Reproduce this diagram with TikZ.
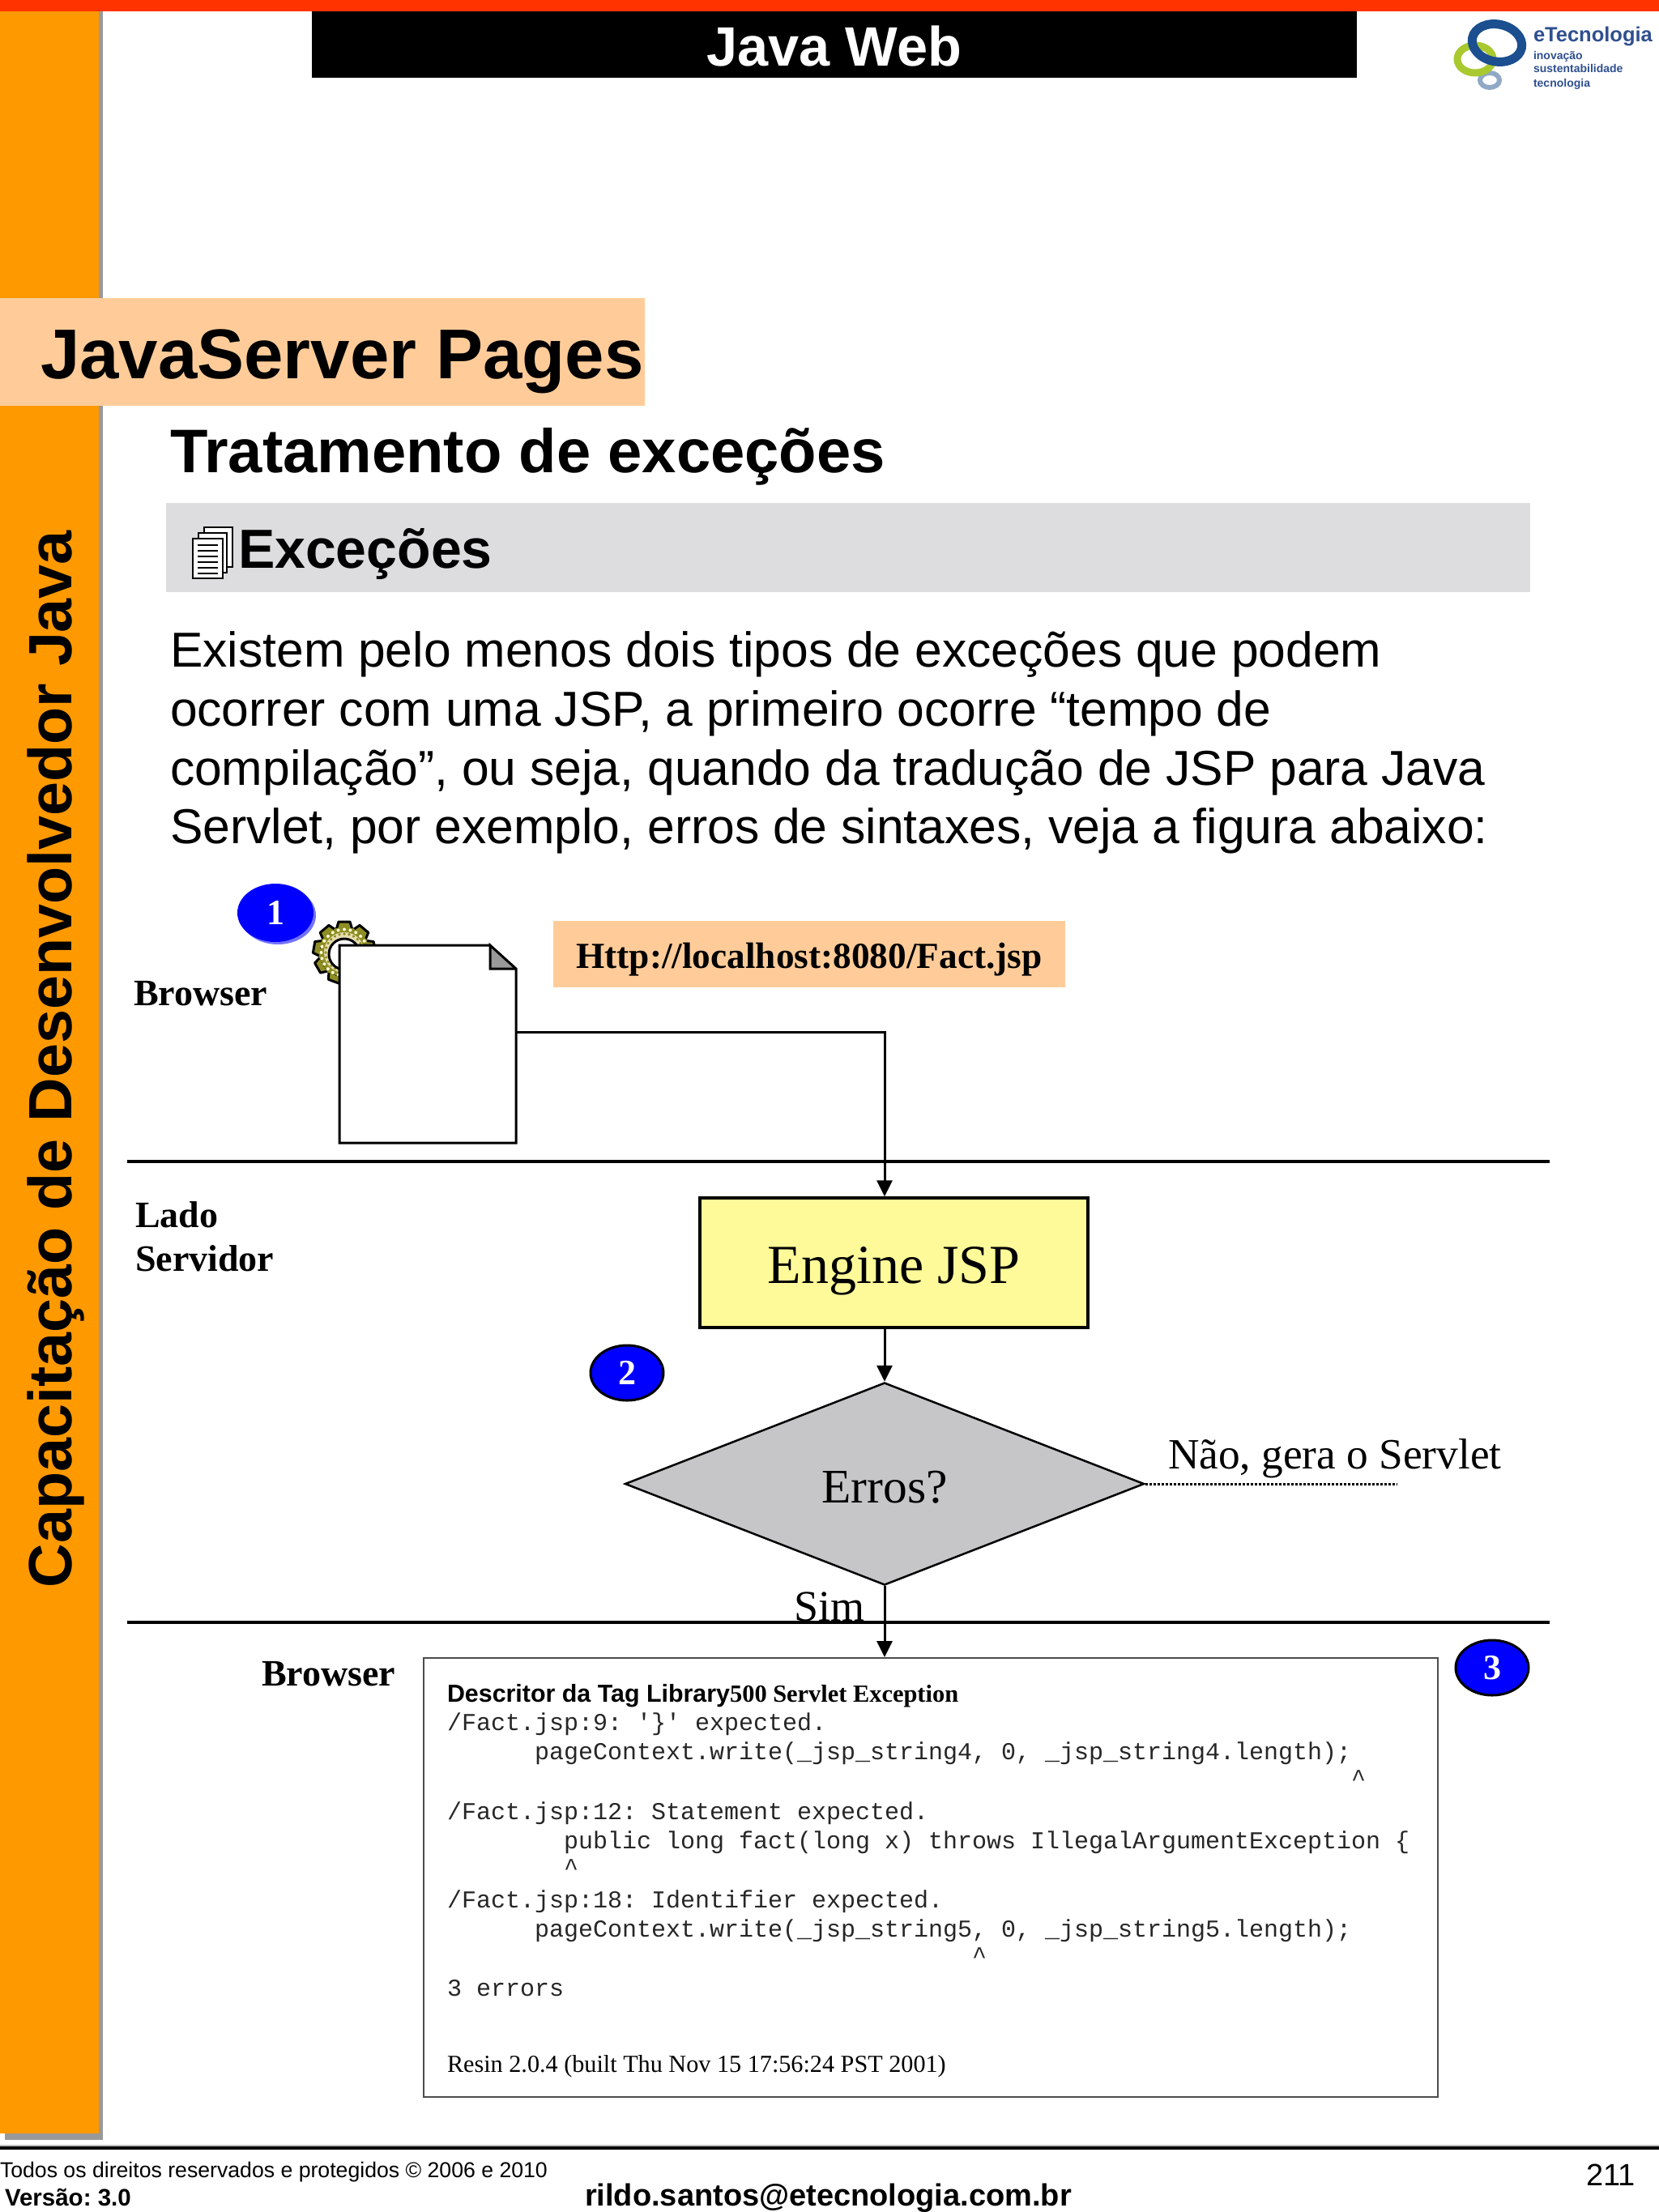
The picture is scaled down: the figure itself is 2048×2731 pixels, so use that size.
\documentclass[tikz,border=0pt]{standalone}
\usepackage{fontspec}
\usetikzlibrary{shapes.geometric,arrows.meta}
\setmainfont{Liberation Sans}
\newfontfamily\serifface{Liberation Serif}
\newfontfamily\monoface{Liberation Mono}
\newcommand{\fs}[1]{\fontsize{#1}{#1}\selectfont}
\AtBeginDocument{\frenchspacing}
\definecolor{topbar}{HTML}{FF3300}
\definecolor{sidebar}{HTML}{FF9900}
\definecolor{peach}{HTML}{FFCC99}
\definecolor{bandgray}{HTML}{DDDCDE}
\definecolor{shadowgray}{HTML}{999999}
\definecolor{decgray}{HTML}{C6C6C8}
\definecolor{logoblue}{HTML}{1B4F8F}
\definecolor{logogreen}{HTML}{A9C92F}
\definecolor{logopale}{HTML}{8FA9C6}
\definecolor{logotext}{HTML}{2F4F8F}
\definecolor{gearolive}{HTML}{8E8E24}
\definecolor{geartan}{HTML}{E6DDB0}
\definecolor{gearpale}{HTML}{FFFFD8}
\tikzset{
  txt/.style={inner sep=0pt,outer sep=0pt,anchor=base west,text depth=0pt},
  mono/.style={txt,font=\monoface\fs{30},text=black!85},
  badge/.style={ellipse,fill=blue,inner sep=0pt,minimum width=94pt,minimum height=72pt,text=white,font=\serifface\bfseries\fs{44}},
  ringbadge/.style={badge,draw=black,line width=3pt,minimum width=90pt,minimum height=68pt},
  wire/.style={line width=3pt,draw=black},
  arrowwire/.style={wire,-{Triangle[length=20pt,width=19pt]},shorten >=0pt},
  hrule/.style={line width=3.2pt,draw=black},
  bold serif/.style={txt,font=\serifface\bfseries\fs{46}},
  page/.style={draw=black,line width=1.6pt,fill=white}
}
\begin{document}
\begin{tikzpicture}[x=1pt,y=-1pt]
\useasboundingbox (0,0) rectangle (2048,2731);
\fill[white] (0,0) rectangle (2048,2731);
% frame
\fill[shadowgray] (6,14) rectangle (127,2642);
\fill[sidebar] (0,14) rectangle (122,2634);
\fill[topbar] (0,0) rectangle (2048,14);
\fill[black] (385,14) rectangle (1675,96);
\node[txt,anchor=base,text=white,font=\bfseries\fs{68.5}] (title) at (1030,81) {Java Web};
% logo
\draw[logopale,line width=6pt] (1839,99) ellipse [x radius=12,y radius=9];
\draw[logogreen,line width=9pt] (1821,73) ellipse [x radius=22,y radius=17];
\draw[logoblue,line width=11pt,rotate around={-12:(1848,53)}] (1848,53) ellipse [x radius=31,y radius=23];
\node[txt,text=logotext,font=\bfseries\fs{25.5}] (logo1) at (1893,51) {eTecnologia};
\node[txt,text=logotext,font=\bfseries\fs{14}] (logo2) at (1893,73) {inovação};
\node[txt,text=logotext,font=\bfseries\fs{14}] (logo3) at (1893,89) {sustentabilidade};
\node[txt,text=logotext,font=\bfseries\fs{14}] (logo4) at (1893,107) {tecnologia};
% sidebar title
\fill[peach] (0,368) rectangle (796,501);
\node[txt,font=\bfseries\fs{87}] (chapter) at (50,467) {JavaServer Pages};
\node[txt,rotate=90,font=\bfseries\fs{75.5}] (side) at (88,1960) {Capacitação de Desenvolvedor Java};
\node[txt,font=\bfseries\fs{76}] (section) at (210,583) {Tratamento de exceções};
\fill[bandgray] (205,621) rectangle (1889,731);
% stacked page icon
\draw[page] (252,651) rectangle (287,700);
\draw[page] (245,658) rectangle (280,707);
\draw[page] (238,665) rectangle (275,714);
\foreach \yy in {673,680,687,694,701,708}
  \draw[black,line width=1.2pt] (244,\yy) -- (269,\yy);
\node[txt,font=\bfseries\fs{68}] (sub) at (294,701) {Exceções};
% body
\node[txt,font=\fs{60.6}] (b1) at (210,823) {Existem pelo menos dois tipos de exceções que podem};
\node[txt,font=\fs{60.6}] (b2) at (210,896) {ocorrer com uma JSP, a primeiro ocorre “tempo de};
\node[txt,font=\fs{60.6}] (b3) at (210,969) {compilação”, ou seja, quando da tradução de JSP para Java};
\node[txt,font=\fs{60.6}] (b4) at (210,1041) {Servlet, por exemplo, erros de sintaxes, veja a figura abaixo:};
% rules
\coordinate (r1a) at (157,1434); \coordinate (r1b) at (1913,1434);
\coordinate (r2a) at (157,2003); \coordinate (r2b) at (1913,2003);
\draw[hrule] (r1a) -- (r1b);
\draw[hrule] (r2a) -- (r2b);
% gear
\begin{scope}[shift={(425,1176)}]
  \foreach \a in {0,40,...,320}
    \fill[gearolive,draw=black,line width=3pt,line join=round,rotate=\a] (-10,-28) -- (-7,-38) -- (7,-38) -- (10,-28) -- cycle;
  \fill[gearolive,draw=black,line width=0pt] (0,0) circle (30);
  \foreach \a in {0,40,...,320}
    \fill[gearolive,rotate=\a] (-11,-30) rectangle (11,-24);
  \foreach \a in {0,15,...,345}
    \fill[gearpale,rotate=\a] (0,-28.5) circle (2);
  \fill[geartan] (0,0) circle (25);
  \foreach \a in {0,15,...,345}
    \fill[gearolive,rotate=\a] (0,-23) circle (1.8);
  \fill[white,draw=black,line width=3pt] (0,2) circle (19);
\end{scope}
% document
\node[rectangle,fill=white,inner sep=0pt,minimum width=218pt,minimum height=244pt] (doc) at (528,1289) {};
\fill[shadowgray] (605,1167) -- (637,1196) -- (605,1196) -- cycle;
\draw[wire,line join=miter] (605,1167) -- (419,1167) -- (419,1411) -- (637,1411) -- (637,1196) -- (605,1167) -- (605,1196) -- (637,1196);
\coordinate (docout) at (637,1274);
% url
\node[fill=peach,inner sep=0pt,minimum width=632pt,minimum height=82pt,font=\serifface\bfseries\fs{45.3}] (url) at (999,1178) {\raisebox{-17.5pt}[0pt][0pt]{Http://localhost:8080/Fact.jsp}};
\node[bold serif] (br1) at (165,1241) {Browser};
\node[bold serif] (lado) at (167,1515) {Lado};
\node[bold serif] (serv) at (167,1569) {Servidor};
\node[bold serif] (br2) at (323,2081) {Browser};
% flow
\node[rectangle,draw=black,line width=3.5pt,fill=yellow!40,inner sep=0pt,minimum width=479pt,minimum height=160pt,font=\serifface\fs{68}] (engine) at (1103.5,1559) {\raisebox{-25pt}[0pt][0pt]{Engine JSP}};
\node[diamond,draw=black,line width=2.5pt,fill=decgray,inner sep=0pt,minimum width=641pt,minimum height=250pt,font=\serifface\fs{59.5}] (dec) at (1092,1832) {\raisebox{-23pt}[0pt][0pt]{Erros?}};
\coordinate (dotend) at (1725,1832);
\draw[line width=3pt,dotted,draw=black] (dec.east) -- (dotend);
\node[txt,font=\serifface\fs{53.3}] (nao) at (1442,1813) {Não, gera o Servlet};
\node[txt,font=\serifface\fs{54}] (sim) at (980,2001) {Sim};
% output box
\node[rectangle,draw=black!70,line width=2pt,fill=white,inner sep=0pt,minimum width=1252pt,minimum height=542pt] (out) at (1149,2318) {};
\draw[arrowwire] (docout) -| (engine.north -| dec.north);
\draw[arrowwire] (engine.south -| dec.north) -- (dec.north);
\draw[arrowwire] (dec.south) -- (out.north -| dec.south);
% output text
\node[txt,font=\fs{30.4}] (o0) at (552,2101) {\bfseries Descritor da Tag Library{\serifface 500 Servlet Exception}};
\node[mono] (o1) at (552,2136) {/Fact.jsp:9: '\}' expected.};
\node[mono] (o2) at (660,2172) {pageContext.write(\_jsp\_string4, 0, \_jsp\_string4.length);};
\node[mono] (o3) at (1668,2205) {\^{}};
\node[mono] (o4) at (552,2246) {/Fact.jsp:12: Statement expected.};
\node[mono] (o5) at (696,2282) {public long fact(long x) throws IllegalArgumentException \{};
\node[mono] (o6) at (696,2315) {\^{}};
\node[mono] (o7) at (552,2355) {/Fact.jsp:18: Identifier expected.};
\node[mono] (o8) at (660,2391) {pageContext.write(\_jsp\_string5, 0, \_jsp\_string5.length);};
\node[mono] (o9) at (1200,2424) {\^{}};
\node[mono] (o10) at (552,2464) {3 errors};
\node[txt,font=\serifface\fs{30.2}] (o11) at (552,2558) {Resin 2.0.4 (built Thu Nov 15 17:56:24 PST 2001)};
% badges
\node[ellipse,fill=blue!55,inner sep=0pt,minimum width=94pt,minimum height=72pt] (b1s) at (343,1130) {};
\node[badge] (one) at (340,1127) {1};
\node[ringbadge] (two) at (774,1695) {2};
\node[ringbadge] (three) at (1842,2059) {3};
% footer
\fill[black!25] (0,2648) rectangle (2048,2650);
\fill[black] (0,2650) rectangle (2048,2654);
\node[txt,font=\fs{26.65}] (f1) at (0,2688) {Todos os direitos reservados e protegidos © 2006 e 2010};
\node[txt,font=\bfseries\fs{29.5}] (f2) at (6,2723) {Versão: 3.0};
\node[txt,font=\bfseries\fs{38}] (f3) at (722,2723) {rildo.santos@etecnologia.com.br};
\node[txt,font=\fs{38}] (f4) at (1958,2698) {211};
\end{tikzpicture}
\end{document}
